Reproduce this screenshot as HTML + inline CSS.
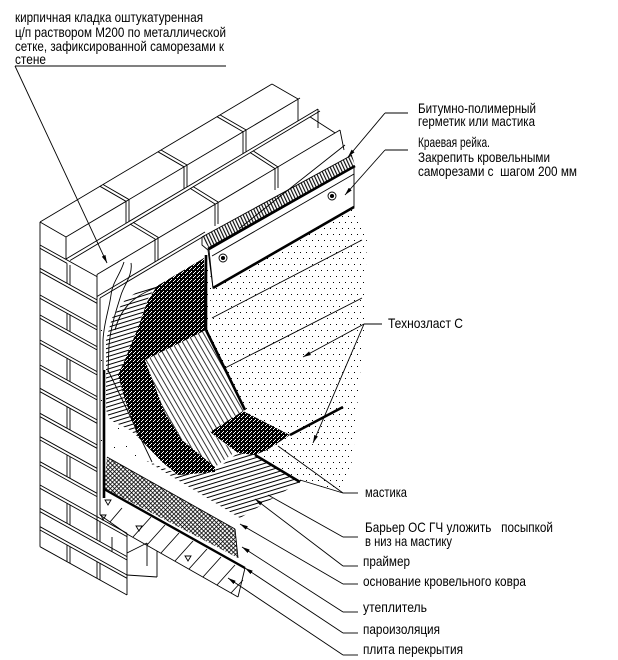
<!DOCTYPE html>
<html><head><meta charset="utf-8"><style>
html,body{margin:0;padding:0;background:#fff;}
svg{display:block;}
text{font-family:"Liberation Sans","DejaVu Sans",sans-serif;font-size:14px;fill:#000;white-space:pre;}
</style></head><body>
<svg width="618" height="660" viewBox="0 0 618 660" xmlns="http://www.w3.org/2000/svg">
<defs>
<pattern id="dots" width="6" height="12" patternUnits="userSpaceOnUse"><rect x="0" y="0" width="1" height="1" fill="#000"/><rect x="3" y="6" width="1" height="1" fill="#000"/></pattern>
<pattern id="dark" width="4" height="4" patternUnits="userSpaceOnUse"><rect width="4" height="4" fill="#000"/><rect x="1" y="1" width="1" height="1" fill="#fff"/><rect x="3" y="3" width="1" height="1" fill="#fff"/><rect x="2" y="0" width="1" height="1" fill="#fff"/></pattern>
<pattern id="hatch" width="4.5" height="10" patternUnits="userSpaceOnUse" patternTransform="rotate(-30)"><line x1="0.5" y1="0" x2="0.5" y2="10" stroke="#000" stroke-width="0.8"/></pattern>
<pattern id="cross" width="3" height="3" patternUnits="userSpaceOnUse" patternTransform="rotate(45)"><line x1="0" y1="0.4" x2="3" y2="0.4" stroke="#000" stroke-width="0.8"/><line x1="0.4" y1="0" x2="0.4" y2="3" stroke="#000" stroke-width="0.8"/></pattern>
<pattern id="stripe" width="20" height="4" patternUnits="userSpaceOnUse" patternTransform="rotate(-17)"><line x1="0" y1="0.5" x2="20" y2="0.5" stroke="#000" stroke-width="0.9"/></pattern>
<pattern id="seal" width="3" height="10" patternUnits="userSpaceOnUse" patternTransform="rotate(-25)"><line x1="0.6" y1="0" x2="0.6" y2="10" stroke="#000" stroke-width="1.1"/></pattern>
<marker id="ar" markerWidth="8" markerHeight="4" refX="8" refY="2" orient="auto" markerUnits="userSpaceOnUse"><path d="M0,0 L8,2 L0,4 z" fill="#000"/></marker>
</defs>

<!-- fills -->
<polygon points="206,255 213,288 354,207 367,235 364,330 356,420 353,458 343,492 300,482 255,455 245,410 206,330" fill="url(#dots)"/>
<polygon points="106,340 112,318 125,300 140,290 157,286 147,300 138,330 128,355 120,372 125,400 138,437 130,430 110,420 106,410" fill="url(#stripe)"/>
<polygon points="145,460 178,474 215,470 238,453 255,455 300,482 240,518" fill="url(#stripe)"/>
<polygon points="145,360 206,330 245,410 210,432 235,452 215,467 182,440 165,413" fill="url(#hatch)"/>
<polygon points="157,286 204,258 206,330 145,360 165,413 182,440 215,467 215,472 178,475 162,462 138,437 125,400 118,375 124,362 130,347 138,328 147,302" fill="url(#dark)"/>
<polygon points="210,432 243,411 290,435 267,450 255,455 238,453" fill="url(#dark)"/>
<polygon points="107,457 235,529 238,558 104,488" fill="url(#cross)"/>
<polygon points="202,237 352,155 355,166 209,248" fill="url(#seal)"/>

<g stroke="#000" fill="none" stroke-width="0.9">
<!-- top courses of wall -->
<line x1="40" y1="222" x2="272" y2="84"/>
<line x1="66" y1="237" x2="300" y2="98"/>
<line x1="66" y1="259" x2="318" y2="109"/>
<line x1="70" y1="260.5" x2="320" y2="111"/>
<line x1="97" y1="274.5" x2="340" y2="130"/>
<line x1="97" y1="296.5" x2="205" y2="232"/>
<line x1="100" y1="298" x2="205" y2="235.5"/>
<line x1="240" y1="228" x2="345" y2="145"/>
<polyline points="272,84 298,99 298,121"/>
<polyline points="318,109 318,128"/>
<polyline points="340,130 344,150"/>
<line x1="40" y1="222" x2="66" y2="237"/>
<line x1="66" y1="237" x2="66" y2="259"/>
<!-- top course joints -->
<polyline points="100,186.3 126,201.3 126,223.3"/>
<polyline points="103,184.5 129,199.5 129,221.5"/>
<polyline points="158,151.8 184,166.8 184,188.8"/>
<polyline points="161,150 187,165 187,187"/>
<polyline points="217,116.7 243,131.7 243,153.7"/>
<polyline points="220,114.9 246,129.9 246,151.9"/>
<!-- inner course joints -->
<polyline points="130,224 155,239 155,262"/>
<polyline points="133,222.2 158,237.2 158,260"/>
<polyline points="190,188.2 215,204 215,226"/>
<polyline points="193,186.5 218,202 218,224"/>
<polyline points="250,152.5 275,168.6 275,190"/>
<polyline points="253,150.8 278,167 278,188"/>
<polyline points="310,116.9 335,132.9"/>

<!-- wall end face -->
<line x1="40" y1="222" x2="40" y2="546.7"/>
<line x1="97" y1="274.5" x2="97" y2="533.3"/>
<line x1="100" y1="298" x2="100" y2="515"/>
<line x1="40" y1="245" x2="97" y2="276.6"/>
<line x1="40" y1="248.3" x2="67" y2="263.3"/>
<line x1="40" y1="268.3" x2="97" y2="299.9"/>
<line x1="40" y1="271.7" x2="97" y2="303.3"/>
<line x1="40" y1="295" x2="97" y2="326.6"/>
<line x1="40" y1="298.3" x2="97" y2="329.9"/>
<line x1="40" y1="315" x2="97" y2="346.6"/>
<line x1="40" y1="318.3" x2="97" y2="349.9"/>
<line x1="40" y1="340" x2="97" y2="371.6"/>
<line x1="40" y1="343.3" x2="97" y2="374.9"/>
<line x1="40" y1="365" x2="97" y2="396.6"/>
<line x1="40" y1="368.3" x2="97" y2="399.9"/>
<line x1="40" y1="388.3" x2="97" y2="419.9"/>
<line x1="40" y1="391.7" x2="97" y2="423.3"/>
<line x1="40" y1="413.3" x2="97" y2="444.9"/>
<line x1="40" y1="416.7" x2="97" y2="448.3"/>
<line x1="40" y1="436.7" x2="97" y2="468.3"/>
<line x1="40" y1="440" x2="97" y2="471.6"/>
<line x1="40" y1="461.7" x2="97" y2="493.3"/>
<line x1="40" y1="465" x2="97" y2="496.6"/>
<line x1="40" y1="485" x2="127" y2="533.3"/>
<line x1="40" y1="488.3" x2="127" y2="536.6"/>
<line x1="40" y1="508.3" x2="127" y2="556.6"/>
<line x1="40" y1="511.7" x2="127" y2="560"/>
<line x1="40" y1="526.7" x2="127" y2="575"/>
<line x1="40" y1="530" x2="127" y2="578.3"/>
<line x1="40" y1="546.7" x2="127" y2="595"/>
<line x1="127" y1="533.3" x2="127" y2="595"/>
<!-- vertical joints -->
<line x1="67" y1="263.3" x2="67" y2="283.3"/><line x1="70" y1="265" x2="70" y2="285"/>
<line x1="67" y1="313.3" x2="67" y2="330"/><line x1="70" y1="315" x2="70" y2="331.7"/>
<line x1="67" y1="358.3" x2="67" y2="380"/><line x1="70" y1="360" x2="70" y2="381.7"/>
<line x1="67" y1="406.7" x2="67" y2="428.3"/><line x1="70" y1="408.3" x2="70" y2="430"/>
<line x1="67" y1="455" x2="67" y2="476.7"/><line x1="70" y1="456.7" x2="70" y2="478.3"/>
<line x1="67" y1="503.3" x2="67" y2="523.3"/><line x1="70" y1="505" x2="70" y2="525"/>
<line x1="67" y1="545" x2="67" y2="561.7"/><line x1="70" y1="546.7" x2="70" y2="563.4"/>
<line x1="97" y1="519.9" x2="97" y2="539.9"/><line x1="100" y1="521.6" x2="100" y2="541.6"/>
<line x1="97" y1="561.6" x2="97" y2="578.3"/><line x1="100" y1="563.3" x2="100" y2="580"/>
<line x1="112" y1="537" x2="112" y2="552"/>
<!-- bricks under slab -->
<line x1="127" y1="553" x2="147" y2="543"/>
<line x1="147" y1="543" x2="147" y2="566"/>
<line x1="157" y1="551" x2="157" y2="577"/>
<line x1="127" y1="575" x2="157" y2="577"/>

<!-- plaster -->
<path d="M124,262 C120,275 112,283 111,295 C109,310 104,322 103,340 L103,370"/>
<path d="M131,263 C133,275 124,285 121,295 C117,308 111,325 109,345 L108,372"/>
<path d="M115,330 C120,310 132,296 158,287"/>
<line x1="104" y1="370" x2="104" y2="498" stroke-width="2.6"/>
<line x1="108" y1="370" x2="152" y2="462"/>

<!-- rail -->
<polygon points="209,250 354,167 354,207 213,288" fill="#fff"/>
<line x1="202" y1="237" x2="352" y2="155"/>
<line x1="208" y1="249" x2="355" y2="166" stroke-width="2.6"/>
<line x1="212" y1="256" x2="354" y2="174"/>
<line x1="213" y1="288" x2="354" y2="207" stroke-width="2.6"/>
<polyline points="202,237 202,245 208,250 213,288"/>
<circle cx="223" cy="258" r="4"/><circle cx="223" cy="258" r="1.6" fill="#000"/>
<circle cx="332" cy="196" r="4"/><circle cx="332" cy="196" r="1.6" fill="#000"/>
<line x1="206" y1="255" x2="206" y2="330" stroke-width="2.6"/>

<!-- membrane lines -->
<line x1="206" y1="330" x2="245" y2="410" stroke-width="2.6"/>
<line x1="290" y1="435" x2="343" y2="407" stroke-width="2.6"/>
<line x1="255" y1="455" x2="300" y2="482" stroke-width="2.6"/>
<line x1="212" y1="318" x2="362" y2="240"/>
<line x1="225" y1="368" x2="362" y2="298"/>

<!-- insulation / slab -->
<line x1="107" y1="457" x2="235" y2="529"/>
<line x1="235" y1="529" x2="238" y2="558"/>
<line x1="104" y1="489" x2="245" y2="568" stroke-width="2.4"/>
<line x1="100" y1="515" x2="127" y2="534"/>
<line x1="127" y1="534" x2="238" y2="597"/>
<line x1="245" y1="568" x2="238" y2="597"/>
<line x1="110" y1="522" x2="122" y2="508"/>
<line x1="133" y1="537" x2="151" y2="517"/>
<line x1="147" y1="545" x2="165" y2="525"/>
<line x1="161" y1="553" x2="179" y2="533"/>
<line x1="175" y1="561" x2="193" y2="541"/>
<line x1="189" y1="569" x2="207" y2="549"/>
<line x1="203" y1="577" x2="221" y2="557"/>
<line x1="217" y1="585" x2="235" y2="565"/>
<line x1="231" y1="593" x2="243" y2="580"/>
<path d="M105,500 L111,500 L108,505 z"/>
<path d="M101,515 L106,515 L103,520 z"/>
<path d="M136,526 L142,526 L139,531 z"/>
<path d="M185,556 L191,556 L188,561 z"/>

<!-- leaders -->
<line x1="15" y1="66" x2="226" y2="66"/>
<line x1="15" y1="66" x2="107" y2="263" marker-end="url(#ar)"/>
<line x1="385" y1="113" x2="408" y2="113"/>
<line x1="385" y1="113" x2="348" y2="157" marker-end="url(#ar)"/>
<line x1="385" y1="150" x2="408" y2="150"/>
<line x1="385" y1="150" x2="345" y2="195" marker-end="url(#ar)"/>
<line x1="364" y1="324" x2="382" y2="324"/>
<line x1="364" y1="324" x2="303" y2="357" marker-end="url(#ar)"/>
<line x1="364" y1="324" x2="313" y2="443" marker-end="url(#ar)"/>
<line x1="343" y1="493" x2="358" y2="493"/>
<line x1="343" y1="493" x2="278" y2="446"/>
<line x1="343" y1="493" x2="300" y2="480"/>
<line x1="343" y1="537" x2="358" y2="537"/>
<line x1="343" y1="537" x2="268" y2="495"/>
<line x1="343" y1="566" x2="358" y2="566"/>
<line x1="343" y1="566" x2="255" y2="499" marker-end="url(#ar)"/>
<line x1="343" y1="584" x2="358" y2="584"/>
<line x1="343" y1="584" x2="240" y2="524" marker-end="url(#ar)"/>
<line x1="343" y1="612" x2="358" y2="612"/>
<line x1="343" y1="612" x2="242" y2="547" marker-end="url(#ar)"/>
<line x1="343" y1="633" x2="358" y2="633"/>
<line x1="343" y1="633" x2="245" y2="568" marker-end="url(#ar)"/>
<line x1="343" y1="655" x2="358" y2="655"/>
<line x1="343" y1="655" x2="228" y2="578" marker-end="url(#ar)"/>
</g>

<!-- scattered dots -->
<g fill="#000">
<rect x="118" y="428" width="1" height="1"/><rect x="126" y="446" width="1" height="1"/>
<rect x="135" y="455" width="1" height="1"/><rect x="114" y="447" width="1" height="1"/>
<rect x="101" y="330" width="1" height="1"/><rect x="101" y="360" width="1" height="1"/>
<rect x="101" y="400" width="1" height="1"/><rect x="101" y="440" width="1" height="1"/>
</g>

<!-- labels -->
<text x="15" y="22" textLength="188" lengthAdjust="spacingAndGlyphs">кирпичная кладка оштукатуренная</text>
<text x="15" y="37" textLength="211" lengthAdjust="spacingAndGlyphs">ц/п раствором М200 по металлической</text>
<text x="15" y="51" textLength="209" lengthAdjust="spacingAndGlyphs">сетке, зафиксированной саморезами к</text>
<text x="15" y="64" textLength="31" lengthAdjust="spacingAndGlyphs">стене</text>

<text x="418" y="113" textLength="118" lengthAdjust="spacingAndGlyphs">Битумно-полимерный</text>
<text x="418" y="126" textLength="117" lengthAdjust="spacingAndGlyphs">герметик или мастика</text>
<text x="418" y="147" textLength="72" lengthAdjust="spacingAndGlyphs">Краевая рейка.</text>
<text x="418" y="162" textLength="132" lengthAdjust="spacingAndGlyphs">Закрепить кровельными</text>
<text x="418" y="176" textLength="159" lengthAdjust="spacingAndGlyphs">саморезами с  шагом 200 мм</text>
<text x="388" y="328" textLength="75" lengthAdjust="spacingAndGlyphs">Технозласт С</text>
<text x="365" y="497" textLength="42" lengthAdjust="spacingAndGlyphs">мастика</text>
<text x="365" y="532" textLength="188" lengthAdjust="spacingAndGlyphs">Барьер ОС ГЧ уложить   посыпкой</text>
<text x="365" y="546" textLength="87" lengthAdjust="spacingAndGlyphs">в низ на мастику</text>
<text x="363" y="566" textLength="47" lengthAdjust="spacingAndGlyphs">праймер</text>
<text x="363" y="586" textLength="163" lengthAdjust="spacingAndGlyphs">основание кровельного ковра</text>
<text x="363" y="612" textLength="64" lengthAdjust="spacingAndGlyphs">утеплитель</text>
<text x="363" y="634" textLength="77" lengthAdjust="spacingAndGlyphs">пароизоляция</text>
<text x="363" y="654" textLength="100" lengthAdjust="spacingAndGlyphs">плита перекрытия</text>
</svg>
</body></html>
